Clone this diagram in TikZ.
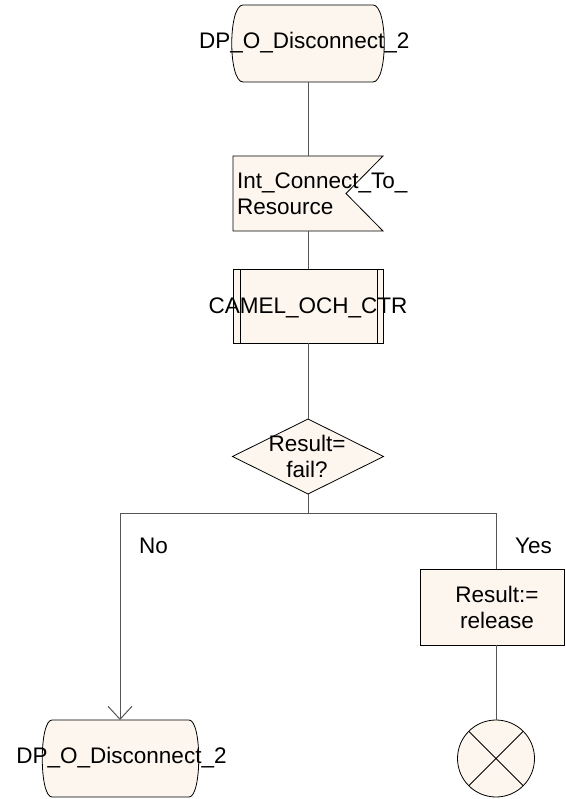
\documentclass[tikz,border=0pt]{standalone}
\usepackage{fontspec}
\setmainfont{Liberation Sans}
\usetikzlibrary{arrows.meta,backgrounds}
\definecolor{fillc}{HTML}{FDF6EE}
\definecolor{linec}{HTML}{555555}
\tikzset{
  shp/.style={draw=black, fill=fillc, line width=0.8pt},
  con/.style={draw=linec, line width=1pt},
  txt/.style={font=\fontsize{22.5}{25.5}\selectfont, inner sep=0pt, align=center},
  frm/.style={inner sep=0pt, outer sep=0pt, rectangle},
  barb/.style={-{Straight Barb[length=13pt,width=24pt]}}
}
\begin{document}
\begin{tikzpicture}[x=1pt,y=-1pt]
\useasboundingbox (0,0) rectangle (565,799);
% frames
\node[frm, minimum width=130, minimum height=77] (top) at (308,43.5) {};
\node[frm, minimum width=150, minimum height=75] (ic) at (308,193.5) {};
\node[frm, minimum width=150, minimum height=74] (camel) at (308,306) {};
\node[frm, minimum width=151, minimum height=75] (dec) at (308,456.5) {};
\node[frm, minimum width=144, minimum height=76] (res) at (492,607) {};
\node[frm, minimum width=137, minimum height=77] (bot) at (120.5,758.5) {};
\node[circle, inner sep=0pt, outer sep=0pt, minimum size=77] (stop) at (496,758.5) {};
\coordinate (split) at (308,513);
\coordinate (lno) at (120,513);
\coordinate (lyes) at (496,513);
% shapes
\begin{scope}[on background layer]
\path[shp] (top.north west) -- (top.north east)
  .. controls ([xshift=15]top.north east) and ([xshift=15]top.south east) .. (top.south east)
  -- (top.south west)
  .. controls ([xshift=-15]top.south west) and ([xshift=-15]top.north west) .. (top.north west) -- cycle;
\path[shp] (ic.north west) -- (ic.north east) -- ([xshift=-37]ic.east) -- (ic.south east) -- (ic.south west) -- cycle;
\path[shp] (camel.north west) rectangle (camel.south east);
\draw[shp, fill=none] ([xshift=7]camel.north west) -- ([xshift=7]camel.south west);
\draw[shp, fill=none] ([xshift=-6]camel.north east) -- ([xshift=-6]camel.south east);
\path[shp] (dec.north) -- (dec.east) -- (dec.south) -- (dec.west) -- cycle;
\path[shp] (res.north west) rectangle (res.south east);
\path[shp] (bot.north west) -- (bot.north east)
  .. controls ([xshift=13]bot.north east) and ([xshift=13]bot.south east) .. (bot.south east)
  -- (bot.south west)
  .. controls ([xshift=-13]bot.south west) and ([xshift=-13]bot.north west) .. (bot.north west) -- cycle;
\path[shp] (stop.center) circle[radius=38.5];
\draw[shp, fill=none] (stop.north west) -- (stop.south east);
\draw[shp, fill=none] (stop.north east) -- (stop.south west);
\end{scope}
% texts
\node[txt, anchor=base west] (toptxt) at (199,49) {DP\_O\_Disconnect\_2};
\node[txt, align=left, anchor=west] (ictxt) at (237,194) {Int\_Connect\_To\_\\Resource};
\node[txt, anchor=base] (cameltxt) at (308,313) {CAMEL\_OCH\_CTR};
\node[txt] (dectxt) at (307,456.5) {Result=\\fail?};
\node[txt, anchor=base west] (no) at (139,553) {No};
\node[txt, anchor=base west] (yes) at (515,553) {Yes};
\node[txt] (restxt) at (497,607.5) {Result:=\\release};
\node[txt, anchor=base] (bottxt) at (121.5,763) {DP\_O\_Disconnect\_2};
% connectors
\draw[con] (top.south) -- (ic.north);
\draw[con] (ic.south) -- (camel.north);
\draw[con] (camel.south) -- (dec.north);
\draw[con] (dec.south) -- (split);
\draw[con] (lno) -- (lyes);
\draw[con, barb] (lno) -- (lno |- bot.north);
\draw[con] (lyes) -- (lyes |- res.north);
\draw[con] (lyes |- res.south) -- (stop.north);
\end{tikzpicture}
\end{document}
